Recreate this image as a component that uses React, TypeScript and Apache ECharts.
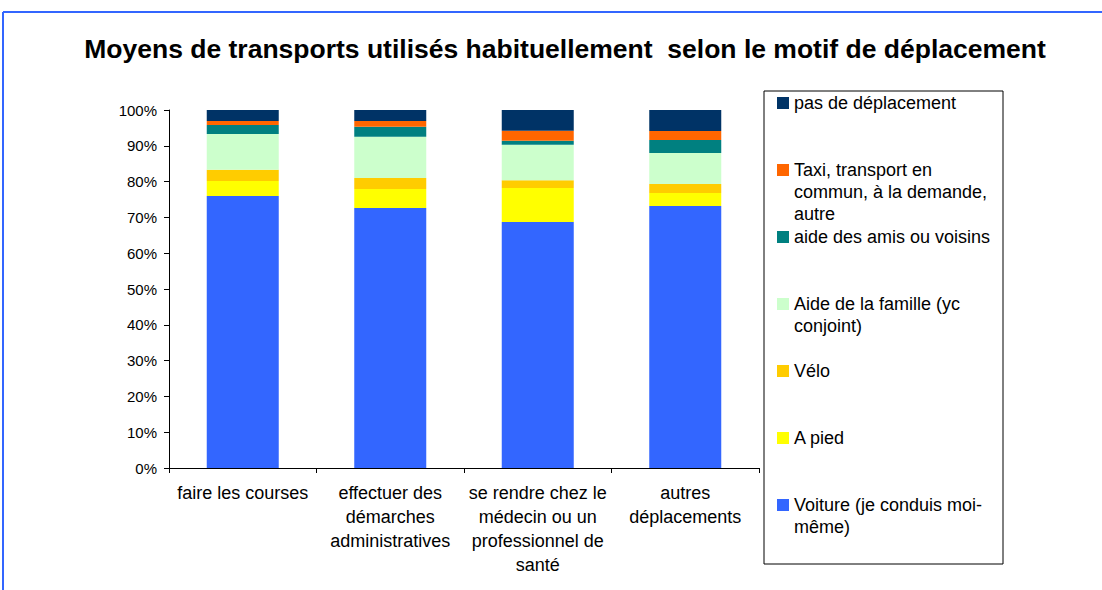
import React, { useEffect, useRef } from "react";
import * as echarts from "echarts";

const categories = [
  "faire les courses",
  "effectuer des\ndémarches\nadministratives",
  "se rendre chez le\nmédecin ou un\nprofessionnel de\nsanté",
  "autres\ndéplacements",
];

// stacked from bottom to top
const seriesNames = [
  "Voiture (je conduis moi-même)",
  "A pied",
  "Vélo",
  "Aide de la famille (yc conjoint)",
  "aide des amis ou voisins",
  "Taxi, transport en commun, à la demande, autre",
  "pas de déplacement",
];
const legendLabels = [
  "Voiture (je conduis moi-\nmême)",
  "A pied",
  "Vélo",
  "Aide de la famille (yc\nconjoint)",
  "aide des amis ou voisins",
  "Taxi, transport en\ncommun, à la demande,\nautre",
  "pas de déplacement",
];
const colors = ["#3366FF", "#FFFF00", "#FFCC00", "#CCFFCC", "#008080", "#FF6600", "#003366"];

const voiture = [76.0, 72.6, 68.7, 73.2];
const aPied = [4.2, 5.3, 9.5, 3.6];
const velo = [3.1, 3.1, 2.2, 2.5];
const famille = [10.0, 11.5, 9.9, 8.7];
const amis = [2.5, 2.8, 1.1, 3.6];
const taxi = [1.1, 1.6, 2.8, 2.5];
const pasDeplacement = [3.1, 3.1, 5.8, 5.9];

const seriesValues = [voiture, aPied, velo, famille, amis, taxi, pasDeplacement];

const yTicks = { min: 0, max: 100, interval: 10 };

export default function App() {
  const ref = useRef<HTMLDivElement>(null);
  useEffect(() => {
    document.body.style.margin = "0";
    if (!ref.current) return;
    const chart = echarts.init(ref.current, undefined, { renderer: "svg" });
    const font = "'Liberation Sans', Arial, sans-serif";

    const legendGraphics: any[] = [];
    legendGraphics.push({
      type: "rect",
      shape: { x: 764, y: 91, width: 239, height: 473 },
      style: { fill: "#fff", stroke: "#000", lineWidth: 1 },
    });
    // legend from top to bottom: reverse of stack order
    for (let i = 0; i < seriesNames.length; i++) {
      const idx = seriesNames.length - 1 - i;
      const yc = 103 + 67 * i;
      legendGraphics.push({
        type: "rect",
        shape: { x: 777, y: yc - 6, width: 12, height: 12 },
        style: { fill: colors[idx] },
      });
      legendGraphics.push({
        type: "text",
        x: 794,
        y: yc - 11,
        style: {
          text: legendLabels[idx],
          font: `18px ${font}`,
          fill: "#000",
          lineHeight: 22,
          verticalAlign: "top",
          align: "left",
        },
      });
    }

    chart.setOption({
      animation: false,
      title: {
        text: "Moyens de transports utilisés habituellement  selon le motif de déplacement",
        left: 560,
        top: 30,
        textAlign: "center",
        textStyle: { fontFamily: font, fontSize: 26.5, fontWeight: "bold", color: "#000" },
      },
      grid: { left: 169, right: 343, top: 110, bottom: 122, containLabel: false },
      xAxis: {
        type: "category",
        data: categories,
        boundaryGap: true,
        axisLine: { lineStyle: { color: "#000", width: 1 } },
        axisTick: { show: true, length: 5, alignWithLabel: false, lineStyle: { color: "#000" } },
        axisLabel: {
          interval: 0,
          margin: 13,
          fontFamily: font,
          fontSize: 18,
          color: "#000",
          lineHeight: 24,
        },
      },
      yAxis: {
        type: "value",
        min: yTicks.min,
        max: yTicks.max,
        interval: yTicks.interval,
        axisLine: { show: true, lineStyle: { color: "#000", width: 1 } },
        axisTick: { show: true, length: 5, lineStyle: { color: "#000" } },
        splitLine: { show: false },
        axisLabel: {
          formatter: "{value}%",
          margin: 12,
          fontFamily: font,
          fontSize: 15,
          color: "#000",
        },
      },
      series: seriesNames.map((name, i) => ({
        name,
        type: "bar",
        stack: "total",
        data: seriesValues[i],
        barWidth: 72,
        itemStyle: { color: colors[i] },
      })),
      graphic: [
        {
          type: "line",
          shape: { x1: 3, y1: 12, x2: 1102, y2: 12 },
          style: { stroke: "#3366FF", lineWidth: 2 },
        },
        {
          type: "line",
          shape: { x1: 3, y1: 12, x2: 3, y2: 590 },
          style: { stroke: "#3366FF", lineWidth: 2 },
        },
        ...legendGraphics,
      ],
    });
    return () => chart.dispose();
  }, []);
  return <div ref={ref} style={{ width: 1102, height: 590 }} />;
}
